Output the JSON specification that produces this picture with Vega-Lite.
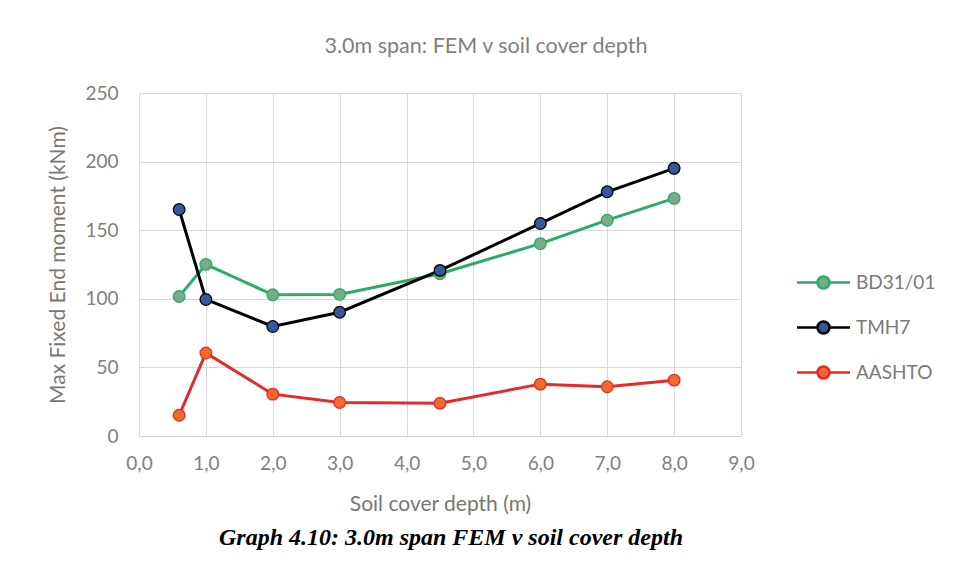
{
  "$schema": "https://vega.github.io/schema/vega-lite/v6.json",
  "padding": {"left": 47, "top": 35, "right": 5, "bottom": 5},
  "background": "white",
  "title": {
    "text": "Graph 4.10: 3.0m span FEM v soil cover depth",
    "orient": "bottom",
    "anchor": "middle",
    "font": "Liberation Serif",
    "fontStyle": "italic",
    "fontWeight": "bold",
    "fontSize": 24,
    "color": "#000000",
    "offset": 12,
    "dx": -41
  },
  "resolve": {"legend": {"stroke": "independent", "fill": "independent"}},
  "vconcat": [
    {
      "width": 602,
      "height": 343,
      "title": {
        "text": "3.0m span: FEM v soil cover depth",
        "anchor": "middle",
        "frame": "group",
        "font": "Lato",
        "fontSize": 21.5,
        "fontWeight": "normal",
        "color": "#7f7f7f",
        "offset": 27,
        "dx": 46
      },
      "data": {
        "values": [
          {"depth": 0.6, "fem": 101.7, "series": "BD31/01"},
          {"depth": 1.0, "fem": 125.1, "series": "BD31/01"},
          {"depth": 2.0, "fem": 102.9, "series": "BD31/01"},
          {"depth": 3.0, "fem": 103.2, "series": "BD31/01"},
          {"depth": 4.5, "fem": 118.3, "series": "BD31/01"},
          {"depth": 6.0, "fem": 140.2, "series": "BD31/01"},
          {"depth": 7.0, "fem": 157.3, "series": "BD31/01"},
          {"depth": 8.0, "fem": 173.2, "series": "BD31/01"},
          {"depth": 0.6, "fem": 165.1, "series": "TMH7"},
          {"depth": 1.0, "fem": 99.5, "series": "TMH7"},
          {"depth": 2.0, "fem": 79.8, "series": "TMH7"},
          {"depth": 3.0, "fem": 90.2, "series": "TMH7"},
          {"depth": 4.5, "fem": 120.7, "series": "TMH7"},
          {"depth": 6.0, "fem": 154.9, "series": "TMH7"},
          {"depth": 7.0, "fem": 178.0, "series": "TMH7"},
          {"depth": 8.0, "fem": 195.1, "series": "TMH7"},
          {"depth": 0.6, "fem": 15.1, "series": "AASHTO"},
          {"depth": 1.0, "fem": 60.5, "series": "AASHTO"},
          {"depth": 2.0, "fem": 30.5, "series": "AASHTO"},
          {"depth": 3.0, "fem": 24.4, "series": "AASHTO"},
          {"depth": 4.5, "fem": 23.9, "series": "AASHTO"},
          {"depth": 6.0, "fem": 37.8, "series": "AASHTO"},
          {"depth": 7.0, "fem": 35.9, "series": "AASHTO"},
          {"depth": 8.0, "fem": 40.7, "series": "AASHTO"}
        ]
      },
      "encoding": {
        "x": {
          "field": "depth",
          "type": "quantitative",
          "scale": {"domain": [0, 9], "nice": false, "zero": false},
          "axis": {
            "title": "Soil cover depth (m)",
            "values": [0, 1, 2, 3, 4, 5, 6, 7, 8, 9],
            "labelExpr": "replace(format(datum.value, '.1f'), '.', ',')",
            "labelPadding": 18,
            "titlePadding": 20,
            "domain": true,
            "domainColor": "#d0d0d0",
            "labelFlush": false
          }
        },
        "y": {
          "field": "fem",
          "type": "quantitative",
          "scale": {"domain": [0, 250], "nice": false},
          "axis": {
            "title": "Max Fixed End moment (kNm)",
            "values": [0, 50, 100, 150, 200, 250],
            "labelPadding": 21,
            "titlePadding": 16,
            "domain": false
          }
        }
      },
      "layer": [
        {
          "mark": {"type": "line", "strokeWidth": 3},
          "encoding": {
            "stroke": {
              "field": "series",
              "type": "nominal",
              "sort": ["BD31/01", "TMH7", "AASHTO"],
              "scale": {"domain": ["BD31/01", "TMH7", "AASHTO"], "range": ["#2eaa68", "#000000", "#e42a2a"]},
              "legend": {
                "title": null,
                "orient": "none",
                "legendX": 673,
                "legendY": 178,
                "symbolType": "M-2.65,0H-0.6M0.6,0H2.65M0.6,0A0.6,0.6,0,1,1,-0.6,0A0.6,0.6,0,1,1,0.6,0Z",
                "symbolSize": 400,
                "symbolStrokeWidth": 2.5,
                "labelOffset": 21,
                "rowPadding": 22,
                "labelFont": "Lato",
                "labelFontSize": 19,
                "labelColor": "#7a7a7a"
              }
            }
          }
        },
        {
          "mark": {"type": "point", "filled": true, "size": 135, "strokeWidth": 1.3, "opacity": 1},
          "encoding": {
            "stroke": {"field": "series", "type": "nominal", "sort": ["BD31/01", "TMH7", "AASHTO"]},
            "fill": {
              "field": "series",
              "type": "nominal",
              "sort": ["BD31/01", "TMH7", "AASHTO"],
              "scale": {"domain": ["BD31/01", "TMH7", "AASHTO"], "range": ["#7aab88", "#38569a", "#f06a2c"]},
              "legend": {
                "title": null,
                "orient": "none",
                "legendX": 673,
                "legendY": 178,
                "symbolType": "M-2.65,0H-0.6M0.6,0H2.65M0.6,0A0.6,0.6,0,1,1,-0.6,0A0.6,0.6,0,1,1,0.6,0Z",
                "symbolSize": 400,
                "symbolStrokeWidth": 2.5,
                "labelOffset": 21,
                "rowPadding": 22,
                "labelFont": "Lato",
                "labelFontSize": 19,
                "labelColor": "#7a7a7a"
              }
            }
          }
        }
      ]
    }
  ],
  "config": {
    "view": {"stroke": null},
    "axis": {
      "grid": true,
      "gridColor": "#d9d9d9",
      "gridWidth": 1,
      "ticks": false,
      "labelFont": "Lato",
      "labelFontSize": 19,
      "labelColor": "#808080",
      "titleFont": "Lato",
      "titleFontSize": 21,
      "titleFontWeight": "normal",
      "titleColor": "#777777"
    }
  }
}
